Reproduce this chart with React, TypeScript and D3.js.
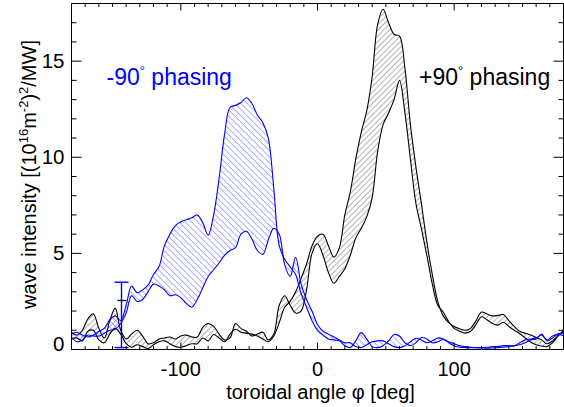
import React from 'react';
import * as d3 from 'd3';

// toroidal angle grid (deg)
const phi = [-180,-176,-172,-168,-164,-160,-156,-152,-148,-144,-140,-136,-132,-128,-124,-120,-116,-112,-108,-104,-100,-96,-92,-88,-84,-80,-76,-72,-68,-64,-60,-56,-52,-48,-44,-40,-36,-32,-28,-24,-20,-16,-12,-8,-4,0,4,8,12,16,20,24,28,32,36,40,44,48,52,56,60,64,68,72,76,80,84,88,92,96,100,104,108,112,116,120,124,128,132,136,140,144,148,152,156,160,164,168,172,176,180];

// -90 phasing band (blue)
const minusUpper = [0.8,0.9,0.75,0.65,0.75,0.95,1.1,1.55,1.75,1.5,2.3,3.3,2.95,3.1,3.35,3.9,4.3,5.4,6.0,6.45,6.65,6.75,6.85,7.0,6.6,5.95,7.0,8.9,11.2,12.6,12.7,12.85,13.1,12.8,12.2,11.8,11.0,8.4,5.4,4.7,4.3,3.9,2.9,2.2,1.5,1.0,0.75,0.55,0.5,0.45,0.2,0.1,0.45,0.88,0.55,0.15,0.1,0.2,0.45,0.78,0.7,0.35,0.2,0.35,0.62,0.55,0.35,0.4,0.52,0.35,0.2,0.12,0.1,0.1,0.1,0.1,0.12,0.15,0.15,0.2,0.2,0.2,0.35,0.5,0.55,0.6,0.75,0.5,0.7,0.8,0.85];
const minusLower = [0.65,0.4,0.5,0.75,0.7,0.7,0.85,1.0,1.05,1.35,1.9,2.8,2.5,2.6,3.0,3.4,3.3,3.1,2.8,2.85,2.7,2.4,2.2,2.6,3.2,3.8,4.15,4.5,4.9,5.15,5.3,6.0,6.15,5.75,5.15,4.95,5.7,6.3,6.0,4.4,3.8,4.8,3.4,2.6,2.0,1.3,0.95,0.8,0.65,0.5,0.35,0.35,0.15,0.1,0.25,0.4,0.45,0.45,0.3,0.15,0.1,0.2,0.4,0.58,0.5,0.35,0.45,0.6,0.55,0.4,0.3,0.2,0.15,0.12,0.1,0.08,0.07,0.08,0.1,0.12,0.15,0.2,0.25,0.35,0.5,0.55,0.8,0.45,0.6,0.8,0.7];

// +90 phasing band (black)
const plusUpper = [0.55,0.6,0.45,0.95,1.0,0.5,0.35,0.8,1.1,0.8,0.3,0.12,0.25,0.15,0.05,0.25,0.4,0.45,0.3,0.15,0.12,0.2,0.3,0.3,0.6,0.45,0.78,0.6,0.4,0.8,1.05,0.9,0.85,0.8,0.7,0.55,0.4,0.7,1.4,2.2,2.5,3.0,3.7,4.45,5.4,5.9,6.0,5.4,4.8,5.3,7.0,8.2,9.9,11.3,12.4,14.2,16.9,17.7,17.0,16.4,16.3,14.6,11.7,9.5,7.6,5.6,3.9,2.5,1.75,1.4,1.2,1.08,1.0,1.1,1.5,1.95,1.85,1.75,1.77,1.82,1.5,1.2,0.95,0.85,0.75,0.62,0.5,0.3,0.45,0.72,0.95];
const plusLower = [0.9,0.75,1.0,1.6,1.85,1.1,0.6,1.5,2.15,1.0,0.55,0.8,1.0,0.7,0.3,0.35,0.55,0.6,0.65,0.55,0.7,0.75,0.65,0.65,1.15,1.35,1.2,0.8,0.5,0.6,1.35,1.1,0.95,0.7,0.8,0.9,0.5,0.8,2.3,2.8,2.3,1.9,2.0,3.1,5.0,5.5,4.9,4.0,3.45,3.8,4.2,4.9,5.8,6.3,6.9,7.9,10.3,11.7,12.3,13.0,14.0,12.3,9.9,7.6,6.3,4.9,3.4,2.3,1.95,1.45,1.1,0.95,0.85,0.95,1.3,1.7,1.55,1.35,1.27,1.42,1.2,1.0,0.82,0.6,0.38,0.25,0.18,0.15,0.35,0.7,1.0];

// error bar
const errPhi = [-143.5];
const errLowBlue = [0.1];
const errHighBlue = [3.5];
const errHighBlack = [2.55];

const xMajor = [-100, 0, 100];
const xMinor = [-170,-160,-150,-140,-130,-120,-110,-90,-80,-70,-60,-50,-40,-30,-20,-10,10,20,30,40,50,60,70,80,90,110,120,130,140,150,160,170];
const yMajor = [0, 5, 10, 15];
const yMinor = [1,2,3,4,6,7,8,9,11,12,13,14,16,17];

const FONT = "'Liberation Sans', Arial, Helvetica, sans-serif";

export default function App() {
  const W = 564, H = 407;
  const L = 71.5, R = 563.5, T = 3.5, B = 349.5;
  const x = d3.scaleLinear().domain([-180, 180]).range([L, R]);
  const y = d3.scaleLinear().domain([0, 18]).range([B, T]);
  const curve = d3.curveCatmullRom.alpha(0.5);

  const line = (vals: number[]) =>
    d3.line<number>().x((_, i) => x(phi[i])).y((v) => y(v)).curve(curve)(vals) || '';
  const band = (a: number[], b: number[]) =>
    d3.area<number>().x((_, i) => x(phi[i])).y0((v) => y(v)).y1((_, i) => y(b[i])).curve(curve)(a) || '';

  const ex = Math.round(x(errPhi[0])) + 0.5;

  return (
    <svg width={W} height={H} style={{ position: 'absolute', left: 0, top: 0, background: '#fff' }} fontFamily={FONT}>
      <defs>
        <clipPath id="plot"><rect x={L} y={T} width={R - L} height={B - T} /></clipPath>
        <pattern id="hatchBlue" patternUnits="userSpaceOnUse" width={4.4} height={4.4} patternTransform="rotate(-45)">
          <line x1={0} y1={0} x2={0} y2={4.4} stroke="#5c5cff" strokeWidth={1} />
        </pattern>
        <pattern id="hatchBlack" patternUnits="userSpaceOnUse" width={4} height={4} patternTransform="rotate(45)">
          <line x1={0} y1={0} x2={0} y2={4} stroke="#555" strokeWidth={0.9} />
        </pattern>
      </defs>
      <rect x={0} y={0} width={W} height={H} fill="#fff" />
      <g clipPath="url(#plot)">
        <path d={band(plusUpper, plusLower)} fill="url(#hatchBlack)" stroke="none" />
        <path d={band(minusUpper, minusLower)} fill="url(#hatchBlue)" stroke="none" />
        <path d={line(plusUpper)} fill="none" stroke="#000" strokeWidth={1.1} />
        <path d={line(plusLower)} fill="none" stroke="#000" strokeWidth={1.1} />
        <path d={line(minusUpper)} fill="none" stroke="#0000ff" strokeWidth={1.1} />
        <path d={line(minusLower)} fill="none" stroke="#0000ff" strokeWidth={1.1} />
      </g>
      {/* error bars */}
      <line x1={ex - 4} x2={ex + 5} y1={y(errHighBlack[0])} y2={y(errHighBlack[0])} stroke="#000" strokeWidth={1.3} />
      <line x1={ex} x2={ex} y1={y(errLowBlue[0])} y2={y(errHighBlue[0])} stroke="#0000ff" strokeWidth={1.4} />
      <line x1={ex - 7} x2={ex + 7} y1={y(errHighBlue[0])} y2={y(errHighBlue[0])} stroke="#0000ff" strokeWidth={1.4} />
      <line x1={ex - 7} x2={ex + 7} y1={y(errLowBlue[0])} y2={y(errLowBlue[0])} stroke="#0000ff" strokeWidth={1.4} />

      {/* frame */}
      <rect x={L} y={T} width={R - L} height={B - T} fill="none" stroke="#000" strokeWidth={1} />
      {/* x ticks */}
      {xMajor.map((v) => (
        <g key={'xM' + v}>
          <line x1={x(v)} x2={x(v)} y1={B} y2={B - 7} stroke="#000" />
          <line x1={x(v)} x2={x(v)} y1={T} y2={T + 7} stroke="#000" />
          <text x={x(v)} y={376} fontSize={20} textAnchor="middle">{v}</text>
        </g>
      ))}
      {xMinor.map((v) => (
        <g key={'xm' + v}>
          <line x1={x(v)} x2={x(v)} y1={B} y2={B - 3.5} stroke="#000" />
          <line x1={x(v)} x2={x(v)} y1={T} y2={T + 3.5} stroke="#000" />
        </g>
      ))}
      {/* y ticks */}
      {yMajor.map((v) => (
        <g key={'yM' + v}>
          <line x1={L} x2={L + 10} y1={y(v)} y2={y(v)} stroke="#000" />
          <line x1={R} x2={R - 10} y1={y(v)} y2={y(v)} stroke="#000" />
          <text x={64.5} y={Math.min(y(v) + 7, B + 1)} fontSize={20.5} textAnchor="end">{v}</text>
        </g>
      ))}
      {yMinor.map((v) => (
        <g key={'ym' + v}>
          <line x1={L} x2={L + 5} y1={y(v)} y2={y(v)} stroke="#000" />
          <line x1={R} x2={R - 5} y1={y(v)} y2={y(v)} stroke="#000" />
        </g>
      ))}
      {/* axis titles */}
      <text x={320.5} y={398.5} fontSize={20} textAnchor="middle">toroidal angle φ [deg]</text>
      <text transform="translate(36,174.5) rotate(-90)" fontSize={20} textAnchor="middle">
        <tspan>wave intensity [(10</tspan>
        <tspan fontSize={13} dy={-8}>16</tspan>
        <tspan dy={8}>m</tspan>
        <tspan fontSize={13} dy={-8}>-2</tspan>
        <tspan dy={8}>)</tspan>
        <tspan fontSize={13} dy={-8}>2</tspan>
        <tspan dy={8}>/MW]</tspan>
      </text>
      {/* labels */}
      <text x={106.5} y={85} fontSize={23} fill="#0000ff">
        <tspan>-90</tspan>
        <tspan fontSize={13} dy={-10}>°</tspan>
        <tspan dy={10}> phasing</tspan>
      </text>
      <text x={419} y={85} fontSize={23} fill="#000">
        <tspan>+90</tspan>
        <tspan fontSize={13} dy={-10}>°</tspan>
        <tspan dy={10}> phasing</tspan>
      </text>
    </svg>
  );
}
